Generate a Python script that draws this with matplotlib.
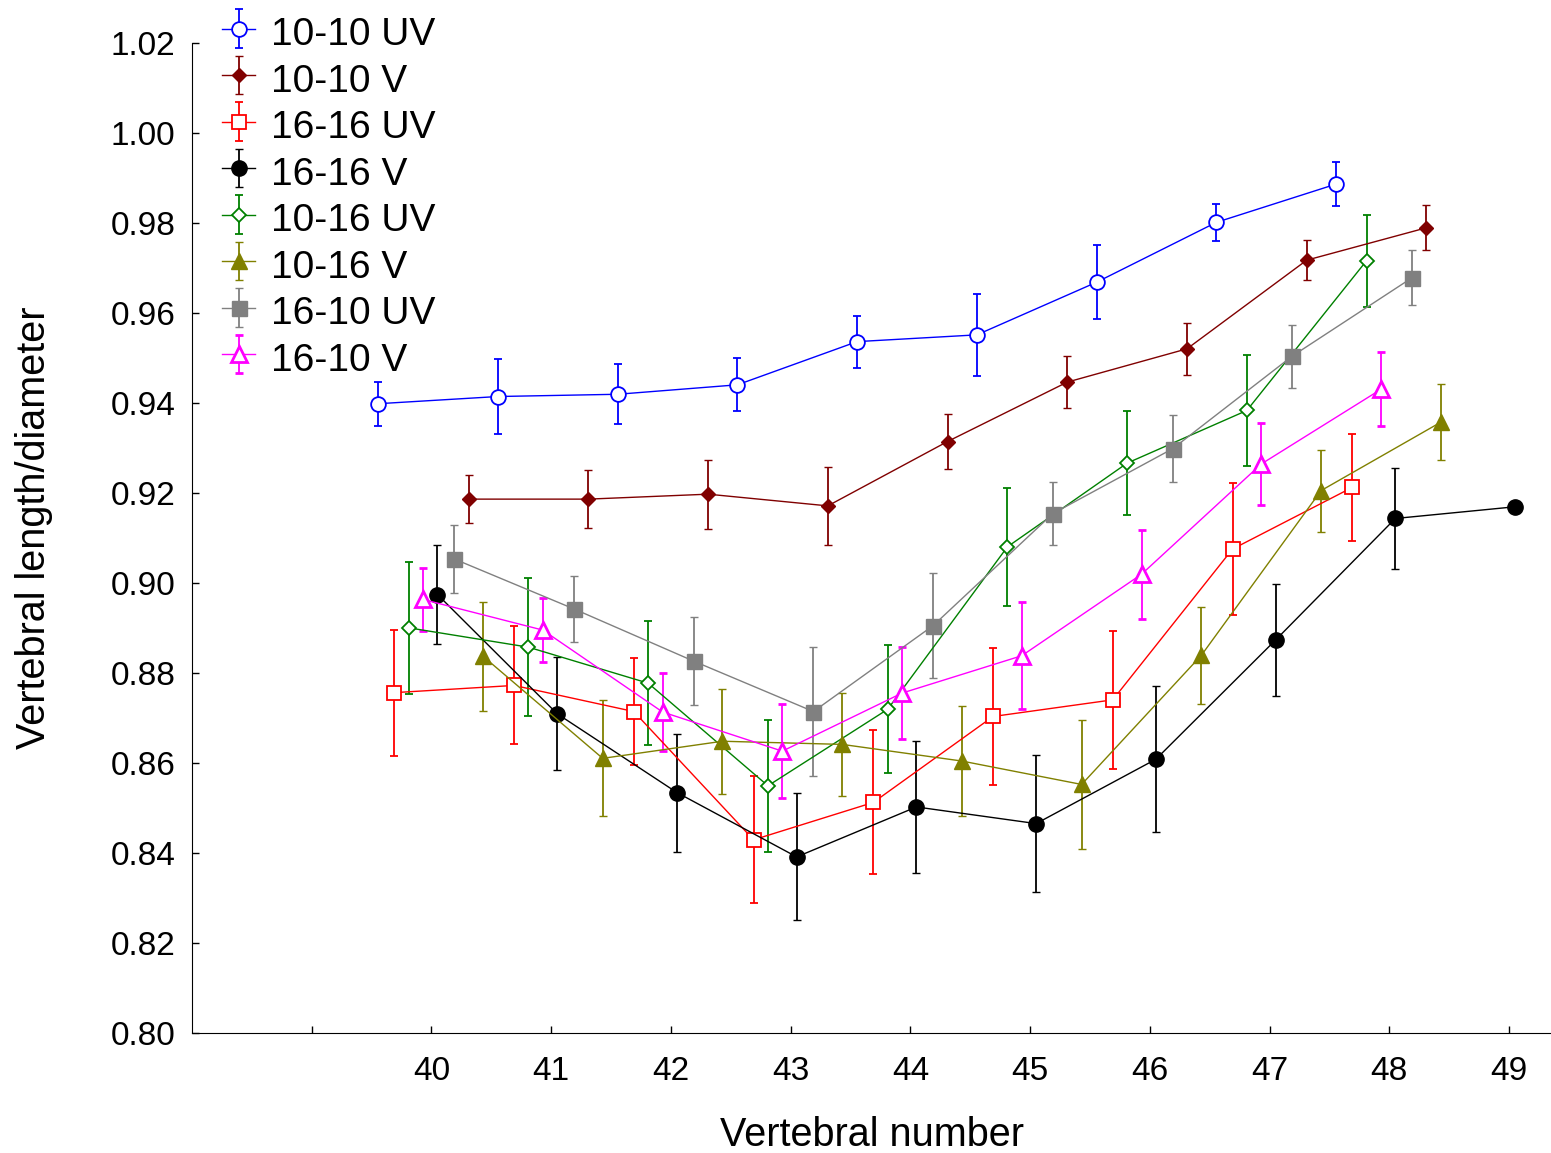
import matplotlib
matplotlib.use('Agg')
import matplotlib.pyplot as plt
import numpy as np

plt.rcParams['font.family'] = ['Liberation Sans', 'DejaVu Sans']

# vertebral numbers
vert = [40, 41, 42, 43, 44, 45, 46, 47, 48]
vert_long = [40, 41, 42, 43, 44, 45, 46, 47, 48, 49]

# means and error (+/-) per group
uv_10_10 = [0.9399, 0.9415, 0.9420, 0.9441, 0.9537, 0.9552, 0.9669, 0.9802, 0.9887]
uv_10_10_err = [0.0049, 0.0083, 0.0067, 0.0059, 0.0058, 0.0091, 0.0082, 0.0041, 0.0049]
v_10_10 = [0.9187, 0.9187, 0.9198, 0.9172, 0.9315, 0.9447, 0.9521, 0.9718, 0.9790]
v_10_10_err = [0.0053, 0.0064, 0.0077, 0.0087, 0.0061, 0.0058, 0.0058, 0.0045, 0.0050]
uv_16_16 = [0.8757, 0.8773, 0.8715, 0.8430, 0.8513, 0.8704, 0.8741, 0.9076, 0.9213]
uv_16_16_err = [0.0140, 0.0131, 0.0119, 0.0141, 0.0160, 0.0153, 0.0153, 0.0147, 0.0119]
v_16_16 = [0.8975, 0.8710, 0.8535, 0.8392, 0.8503, 0.8466, 0.8609, 0.8874, 0.9144, 0.9170]
v_16_16_err = [0.0110, 0.0126, 0.0131, 0.0141, 0.0147, 0.0153, 0.0162, 0.0125, 0.0112, 0.0]
uv_10_16 = [0.8901, 0.8858, 0.8778, 0.8550, 0.8720, 0.9081, 0.9267, 0.9384, 0.9717]
uv_10_16_err = [0.0147, 0.0153, 0.0138, 0.0147, 0.0142, 0.0131, 0.0116, 0.0124, 0.0102]
v_10_16 = [0.8838, 0.8611, 0.8649, 0.8642, 0.8605, 0.8553, 0.8840, 0.9206, 0.9358]
v_10_16_err = [0.0121, 0.0129, 0.0117, 0.0114, 0.0122, 0.0144, 0.0108, 0.0091, 0.0084]
uv_16_10 = [0.9054, 0.8943, 0.8827, 0.8715, 0.8906, 0.9155, 0.9299, 0.9505, 0.9679]
uv_16_10_err = [0.0075, 0.0074, 0.0098, 0.0143, 0.0117, 0.0071, 0.0075, 0.0070, 0.0061]
v_16_10 = [0.8964, 0.8896, 0.8714, 0.8627, 0.8756, 0.8839, 0.9020, 0.9265, 0.9431]
v_16_10_err = [0.0069, 0.0071, 0.0086, 0.0104, 0.0103, 0.0119, 0.0099, 0.0092, 0.0082]

# label, x, y, err, dodge, color, marker, size, filled
series = [
    ('10-10 UV', vert, uv_10_10, uv_10_10_err, -0.445, '#0000ff', 'o', 10.6, False),
    ('10-10 V', vert, v_10_10, v_10_10_err, 0.31, '#800000', 'D', 7.3, True),
    ('16-16 UV', vert, uv_16_16, uv_16_16_err, -0.31, '#ff0000', 's', 10.5, False),
    ('16-16 V', vert_long, v_16_16, v_16_16_err, 0.05, '#000000', 'o', 11.0, True),
    ('10-16 UV', vert, uv_10_16, uv_10_16_err, -0.19, '#008000', 'D', 7.3, False),
    ('10-16 V', vert, v_10_16, v_10_16_err, 0.43, '#808000', '^', 11.0, True),
    ('16-10 UV', vert, uv_16_10, uv_16_10_err, 0.19, '#808080', 's', 10.8, True),
    ('16-10 V', vert, v_16_10, v_16_10_err, -0.07, '#ff00ff', '^', 11.0, False),
]

fig = plt.figure(figsize=(15.51, 11.53), dpi=100)
ax = fig.add_axes([0.1238, 0.1038, 0.8762, 0.8587])

for label, xs, ys, errs, dodge, col, mk, ms, filled in series:
    x = np.array(xs) + dodge
    ax.errorbar(x, ys, yerr=errs, color=col, ecolor=col, lw=1.0, elinewidth=1.3,
                capsize=3, capthick=1.0, marker=mk, ms=ms,
                mfc=col if filled else 'white', mec=col,
                mew=1.0 if filled else (2.0 if mk == '^' else 1.3),
                label=label)

ax.set_xlim(38, 49.35)
ax.set_ylim(0.80, 1.02)
ax.set_xticks(range(39, 50))
ax.set_xticklabels([''] + [str(v) for v in range(40, 50)])
ax.set_yticks(np.arange(0.80, 1.021, 0.02))
ax.set_yticklabels(['%.2f' % v for v in np.arange(0.80, 1.021, 0.02)])
ax.tick_params(direction='in', length=5, width=1, labelsize=24)
ax.tick_params(axis='x', pad=16)
ax.tick_params(axis='y', pad=12)
for s in ['top', 'right']:
    ax.spines[s].set_visible(False)

ax.set_xlabel('Vertebral number', fontsize=28.5, labelpad=21)
ax.set_ylabel('Vertebral length/diameter', fontsize=28.5)
ax.yaxis.set_label_coords(-0.102, 0.511)

leg = ax.legend(loc='upper left', bbox_to_anchor=(222 / 1551, 1 - 12 / 1153),
                bbox_transform=fig.transFigure, frameon=False, fontsize=28,
                borderpad=0, borderaxespad=0, handlelength=0.85,
                handleheight=1.2, handletextpad=0.4, labelspacing=0.14)

fig.savefig('out.png', dpi=100)
